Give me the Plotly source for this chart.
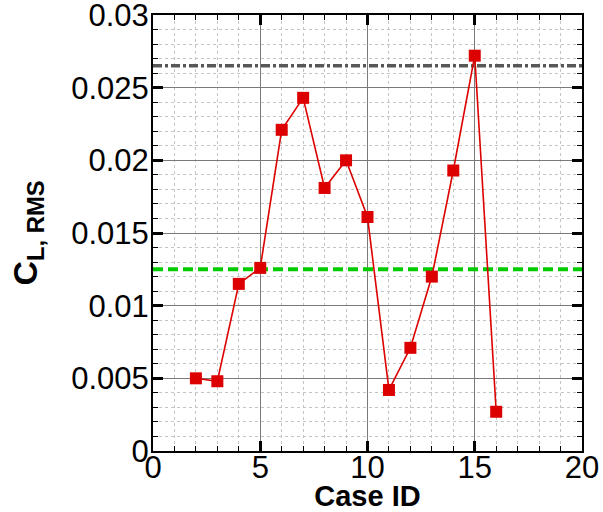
import plotly.graph_objects as go

case_id = [2, 3, 4, 5, 6, 7, 8, 9, 10, 11, 12, 13, 14, 15, 16]
cl_rms = [0.0050, 0.0048, 0.0115, 0.0126, 0.0221, 0.0243, 0.0181, 0.0200,
          0.0161, 0.0042, 0.0071, 0.0120, 0.0193, 0.0272, 0.0027]

ref_green_x = [0, 20]
ref_green_y = [0.0125, 0.0125]
ref_gray_x = [0, 20]
ref_gray_y = [0.0265, 0.0265]

x_tickvals = [0, 5, 10, 15, 20]
x_ticktext = ["0", "5", "10", "15", "20"]
y_tickvals = [0, 0.005, 0.01, 0.015, 0.02, 0.025, 0.03]
y_ticktext = ["0", "0.005", "0.01", "0.015", "0.02", "0.025", "0.03"]

FONT = "Liberation Sans, Arial, sans-serif"

fig = go.Figure()
fig.add_trace(go.Scatter(x=ref_gray_x, y=ref_gray_y, mode="lines",
                         line=dict(color="#585858", width=3.5, dash="9px,3px,3px,3px"),
                         showlegend=False, hoverinfo="skip"))
fig.add_trace(go.Scatter(x=ref_green_x, y=ref_green_y, mode="lines",
                         line=dict(color="#00cc00", width=4, dash="10px,5px"),
                         showlegend=False, hoverinfo="skip"))
fig.add_trace(go.Scatter(x=case_id, y=cl_rms, mode="lines+markers",
                         line=dict(color="#dd0000", width=1.6),
                         marker=dict(symbol="square", size=12, color="#dd0000",
                                     line=dict(width=0)),
                         showlegend=False))

axis_common = dict(
    showline=True, linecolor="black", linewidth=2, mirror="allticks",
    ticks="inside", ticklen=10, tickwidth=3, tickcolor="black",
    showgrid=True, gridcolor="#7a7a7a", gridwidth=1,
    zeroline=False, automargin=False, ticklabeloverflow="allow",
    tickfont=dict(family=FONT, size=31, color="black"),
)

fig.update_xaxes(
    range=[0, 20], tickvals=x_tickvals, ticktext=x_ticktext,
    ticklabelstandoff=-12,
    title=dict(text="<b>Case ID</b>", font=dict(family=FONT, size=29, color="black"), standoff=0),
    minor=dict(dtick=1, tick0=0, ticks="inside", ticklen=5, tickwidth=1, tickcolor="black",
               showgrid=True, gridcolor="#c4c4c4", griddash="dot", gridwidth=1),
    **axis_common,
)
fig.update_yaxes(
    range=[0, 0.03], tickvals=y_tickvals, ticktext=y_ticktext,
    ticklabelstandoff=-4,
    title=dict(text="<b>C<sub>L, RMS</sub></b>", font=dict(family=FONT, size=34, color="black"), standoff=23),
    minor=dict(dtick=0.001, tick0=0, ticks="inside", ticklen=5, tickwidth=1, tickcolor="black",
               showgrid=True, gridcolor="#c4c4c4", griddash="dot", gridwidth=1),
    **axis_common,
)

fig.update_layout(
    width=603, height=512,
    margin=dict(l=153, r=21, t=15, b=61),
    paper_bgcolor="white", plot_bgcolor="white",
    font=dict(family=FONT, color="black"),
)

fig.write_html("out.html")
